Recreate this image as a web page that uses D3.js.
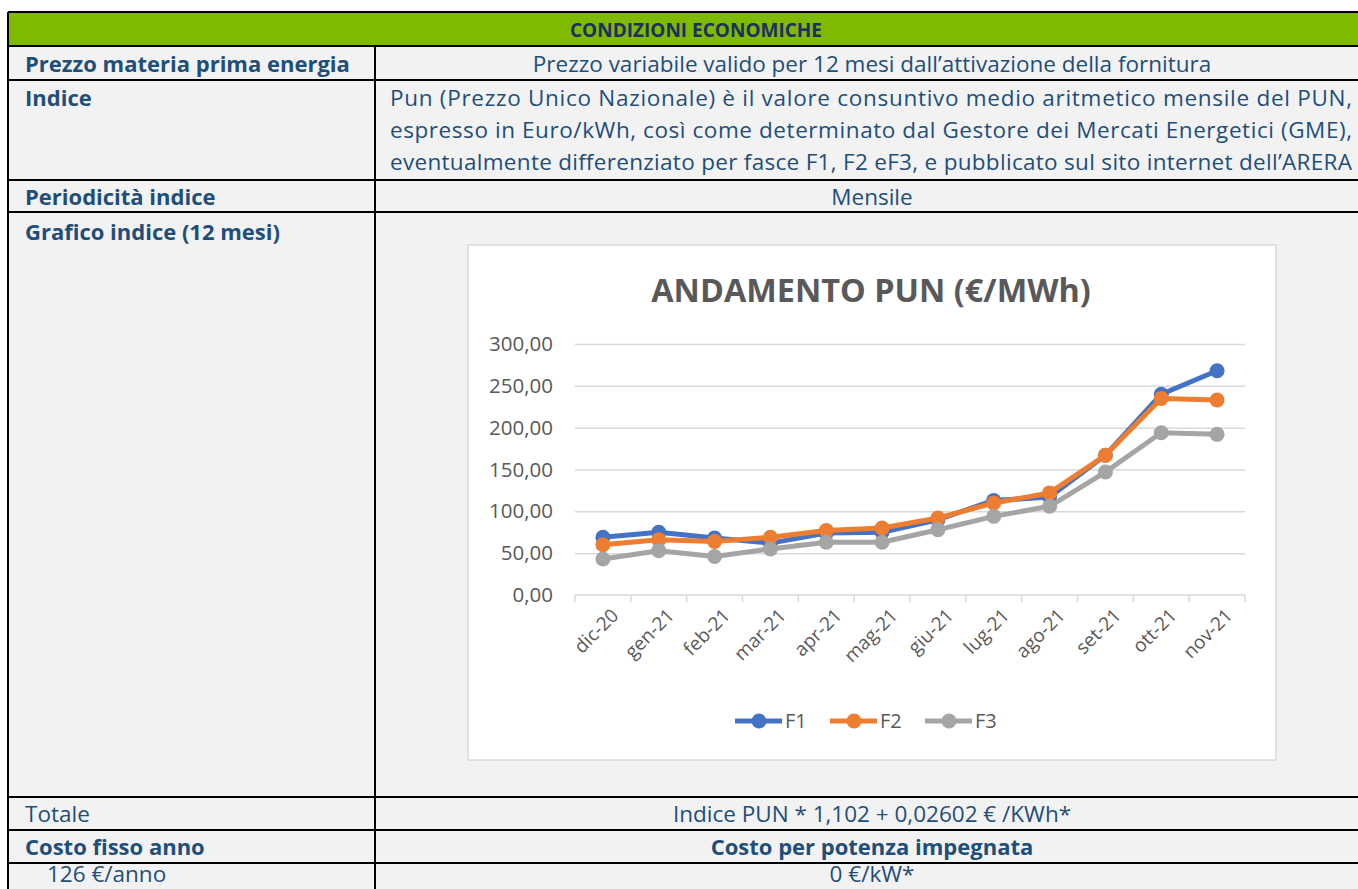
<!DOCTYPE html>
<html>
<head>
<meta charset="utf-8">
<script src="https://cdn.jsdelivr.net/npm/d3@7"></script>
<style>
  body { margin: 0; background: #fff; }
  svg { display: block; font-family: "Open Sans", sans-serif; }
</style>
</head>
<body>
<script>
// dati del grafico
const months = ["dic-20", "gen-21", "feb-21", "mar-21", "apr-21", "mag-21", "giu-21", "lug-21", "ago-21", "set-21", "ott-21", "nov-21"];
const f1 = [69, 75, 68, 62, 74, 75, 90, 113, 117, 167, 240, 268];
const f2 = [60, 66, 64, 69, 77, 80, 92, 110, 122, 167, 235, 233];
const f3 = [43, 53, 46, 55, 63, 63, 78, 94, 106, 147, 194, 192];
const seriesNames = ["F1", "F2", "F3"];
const yTicks = [0, 50, 100, 150, 200, 250, 300];

const indiceLines = [
    "Pun (Prezzo Unico Nazionale) è il valore consuntivo medio aritmetico mensile del PUN,",
    "espresso in Euro/kWh, così come determinato dal Gestore dei Mercati Energetici (GME),",
    "eventualmente differenziato per fasce F1, F2 eF3, e pubblicato sul sito internet dell’ARERA"
];

const W = 1358, H = 889;
const blue = "#1F4E79";
const grey = "#595959";
const colors = ["#4472C4", "#ED7D31", "#A5A5A5"];

const svg = d3.select("body").append("svg")
    .attr("width", W)
    .attr("height", H);

// --- tabella ---
const left = 8, mid = 375, right = 1372;
const rowsY = [12, 46, 80, 180, 212, 797, 830, 863];

// sfondo celle
svg.append("rect").attr("x", left).attr("y", rowsY[1]).attr("width", right - left).attr("height", H - rowsY[1])
    .attr("fill", "#F2F2F2");
svg.append("rect").attr("x", left).attr("y", rowsY[0]).attr("width", right - left).attr("height", rowsY[1] - rowsY[0])
    .attr("fill", "#7FBA00");

// bordi orizzontali
svg.append("g").selectAll("line")
    .data(rowsY)
    .enter().append("line")
    .attr("x1", left).attr("x2", right)
    .attr("y1", d => d).attr("y2", d => d)
    .attr("stroke", "#000").attr("stroke-width", 2);
// bordi verticali
svg.append("line").attr("x1", left).attr("x2", left).attr("y1", rowsY[0]).attr("y2", H)
    .attr("stroke", "#000").attr("stroke-width", 2);
svg.append("line").attr("x1", mid).attr("x2", mid).attr("y1", rowsY[1]).attr("y2", H)
    .attr("stroke", "#000").attr("stroke-width", 2);

function label(x, y, t, opts) {
    opts = opts || {};
    return svg.append("text")
        .attr("x", x).attr("y", y)
        .attr("fill", opts.fill || blue)
        .attr("font-size", opts.size || (opts.bold ? 22 : 22.5))
        .attr("font-weight", opts.bold ? "bold" : "normal")
        .attr("text-anchor", opts.anchor || "start")
        .text(t);
}

const rc = 872; // centro colonna destra
label(696, 37, "CONDIZIONI ECONOMICHE", { bold: true, anchor: "middle", fill: "#1B2F63", size: 19 });
label(25, 72, "Prezzo materia prima energia", { bold: true });
label(rc, 72, "Prezzo variabile valido per 12 mesi dall’attivazione della fornitura", { anchor: "middle" });
label(25, 106, "Indice", { bold: true });
indiceLines.forEach((t, i) => {
    label(390, 106 + i * 32, t)
        .attr("textLength", 962)
        .attr("lengthAdjust", "spacing");
});
label(25, 205, "Periodicità indice", { bold: true });
label(rc, 205, "Mensile", { anchor: "middle" });
label(25, 240, "Grafico indice (12 mesi)", { bold: true });
label(25, 822, "Totale");
label(rc, 822, "Indice PUN * 1,102 + 0,02602 € /KWh*", { anchor: "middle" });
label(25, 855, "Costo fisso anno", { bold: true });
label(rc, 855, "Costo per potenza impegnata", { bold: true, anchor: "middle" });
label(47, 882, "126 €/anno");
label(rc, 882, "0 €/kW*", { anchor: "middle" });

// --- grafico ---
svg.append("rect")
    .attr("x", 468).attr("y", 245).attr("width", 808).attr("height", 515)
    .attr("fill", "#fff").attr("stroke", "#D9D9D9").attr("stroke-width", 1.5);

svg.append("text")
    .attr("x", 871).attr("y", 302)
    .attr("text-anchor", "middle")
    .attr("font-size", 32.4)
    .attr("font-weight", "bold")
    .attr("fill", grey)
    .text("ANDAMENTO PUN (€/MWh)");

const x = d3.scaleBand().domain(months).range([575, 1245]);
const y = d3.scaleLinear().domain([0, 300]).range([595, 344]);

const it = d3.formatLocale({ decimal: ",", thousands: ".", grouping: [3], currency: ["", "€"] });
const fmt = it.format(".2f");

// griglia + etichette asse y
const yAxis = svg.append("g")
    .attr("transform", `translate(${x.range()[0]},0)`)
    .call(d3.axisLeft(y).tickValues(yTicks).tickFormat(fmt)
        .tickSize(-(x.range()[1] - x.range()[0])).tickPadding(22));
yAxis.select(".domain").remove();
yAxis.selectAll(".tick line").attr("stroke", "#D9D9D9").attr("stroke-width", 1.5)
    .filter(d => d === 0).remove();
yAxis.selectAll(".tick text")
    .attr("fill", grey)
    .attr("font-size", 20.5)
    .attr("font-family", "Open Sans, sans-serif");

// asse x
const xAxis = svg.append("g");
xAxis.append("line")
    .attr("x1", x.range()[0]).attr("x2", x.range()[1])
    .attr("y1", y(0)).attr("y2", y(0))
    .attr("stroke", "#D9D9D9").attr("stroke-width", 1.5);
xAxis.selectAll(".tk")
    .data(months.map(m => x(m)).concat([x.range()[1]]))
    .enter().append("line")
    .attr("x1", d => d).attr("x2", d => d)
    .attr("y1", y(0)).attr("y2", y(0) + 7)
    .attr("stroke", "#D9D9D9").attr("stroke-width", 1.5);
xAxis.selectAll(".lbl")
    .data(months)
    .enter().append("text")
    .attr("transform", d => `translate(${x(d) + x.bandwidth() / 2 + 12},${y(0) + 17}) rotate(-45)`)
    .attr("text-anchor", "end")
    .attr("dy", "0.35em")
    .attr("font-size", 19)
    .attr("fill", grey)
    .text(d => d);

// serie
const series = [f1, f2, f3];
const line = d3.line()
    .x((d, i) => x(months[i]) + x.bandwidth() / 2)
    .y(d => y(d));

series.forEach((s, k) => {
    const g = svg.append("g");
    g.append("path")
        .datum(s)
        .attr("d", line)
        .attr("fill", "none")
        .attr("stroke", colors[k])
        .attr("stroke-width", 5)
        .attr("stroke-linejoin", "round");
    g.selectAll("circle")
        .data(s)
        .enter().append("circle")
        .attr("cx", (d, i) => x(months[i]) + x.bandwidth() / 2)
        .attr("cy", d => y(d))
        .attr("r", 7.5)
        .attr("fill", colors[k]);
});

// legenda
const legend = svg.append("g").attr("transform", "translate(735,721)");
seriesNames.forEach((n, k) => {
    const lg = legend.append("g").attr("transform", `translate(${k * 95},0)`);
    lg.append("line").attr("x1", 0).attr("x2", 47).attr("y1", 0).attr("y2", 0)
        .attr("stroke", colors[k]).attr("stroke-width", 5);
    lg.append("circle").attr("cx", 24).attr("cy", 0).attr("r", 7.5).attr("fill", colors[k]);
    lg.append("text").attr("x", 50).attr("y", 0).attr("dy", "0.35em")
        .attr("font-size", 20).attr("fill", grey).text(n);
});
</script>
</body>
</html>
